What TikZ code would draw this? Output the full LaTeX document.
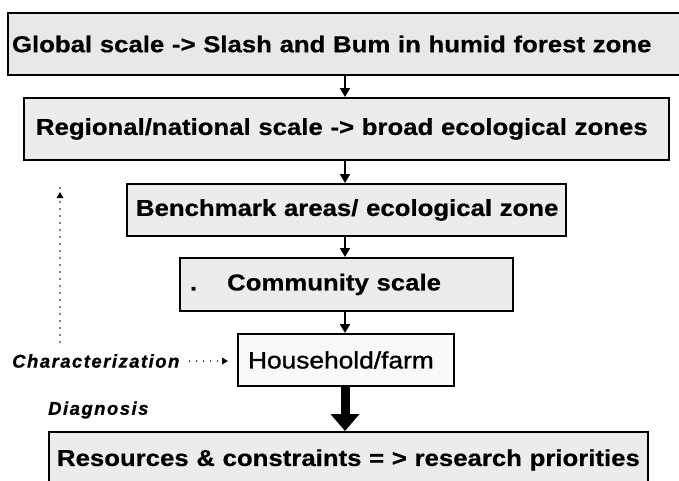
\documentclass[tikz,border=0pt]{standalone}
\usepackage{fontspec}
\setmainfont{Liberation Sans}
\newfontfamily\boxface{Liberation Sans Bold}[FakeStretch=1.12,FakeBold=0.6]
\newfontfamily\plainface{Liberation Sans}[FakeStretch=1.12,FakeBold=1.2]
\newfontfamily\sideface{Liberation Sans Bold Italic}[LetterSpace=8,FakeBold=0.8]
\usetikzlibrary{arrows.meta}
\begin{document}
\begin{tikzpicture}[x=1pt,y=-1pt,
  scalebox/.style={draw=black, line width=2pt, fill=gray!15, rectangle,
    anchor=north west, inner ysep=0pt, align=left,
    font=\boxface\fontsize{23}{27}\selectfont},
  sidelabel/.style={inner sep=0pt, anchor=west,
    font=\sideface\fontsize{18.5}{21}\selectfont},
  link/.style={line width=2pt, -{Triangle[width=10pt,length=9pt]}},
  bigarrow/.style={line width=9pt, -{Triangle[width=28pt,length=17pt]}},
  dotline/.style={line width=1.6pt, line cap=round, dash pattern=on 0pt off 7pt}
]
\useasboundingbox (0,0) rectangle (679,480);
\clip (0,0) rectangle (679,480);

% levels of scale, top to bottom
\node[scalebox, fill=gray!18, minimum width=700pt, minimum height=62pt,
      inner xsep=4pt, text width=692pt] (b1) at (7,12)
  {\mbox{Global scale -> Slash and Bum in humid forest zone}};
\node[scalebox, minimum width=645pt, minimum height=62pt,
      inner xsep=12pt, text width=621pt] (b2) at (23,97)
  {\mbox{Regional/national scale -> broad ecological zones}};
\node[scalebox, minimum width=439pt, minimum height=52pt,
      inner xsep=9pt, text width=421pt] (b3) at (126,183)
  {\mbox{Benchmark areas/ ecological zone}};
\node[scalebox, minimum width=333pt, minimum height=53pt,
      inner xsep=10pt, text width=313pt] (b4) at (179,257)
  {\mbox{.\hspace{30pt}Community scale}};
\node[scalebox, fill=gray!5, minimum width=216pt, minimum height=52pt,
      inner xsep=10pt, text width=196pt,
      font=\plainface\fontsize{23.5}{27}\selectfont] (b5) at (237,333)
  {\mbox{Household/farm}};
\node[scalebox, minimum width=599pt, minimum height=56pt,
      inner xsep=8pt, text width=583pt] (b6) at (48,431)
  {\mbox{Resources \& constraints = > research priorities}};

% side labels
\node[sidelabel] (char) at (12,361) {Characterization};
\node[sidelabel] (diag) at (48,410) {Diagnosis};

% downward chain
\coordinate (spine) at (345,0);
\draw[link] (b1.south -| spine) -- (b2.north -| spine);
\draw[link] (b2.south -| spine) -- (b3.north -| spine);
\draw[link] (b3.south -| spine) -- (b4.north -| spine);
\draw[link] (b4.south -| spine) -- (b5.north -| spine);
\draw[bigarrow] (b5.south -| spine) -- (b6.north -| spine);

% dotted characterization arrows
\coordinate (uptop) at (60,192);
\draw[dotline, shorten <=12pt] (uptop |- char.north) -- ([yshift=6pt]uptop);
\fill (uptop) -- ++(-3.5,6) -- ++(7,0) -- cycle;
\draw[dotline, shorten <=10pt, shorten >=14pt] (char.east) -- (b5.west |- char.east);
\fill ([xshift=-9pt]b5.west |- char.east) -- ++(-6,-3.5) -- ++(0,7) -- cycle;
\end{tikzpicture}
\end{document}
